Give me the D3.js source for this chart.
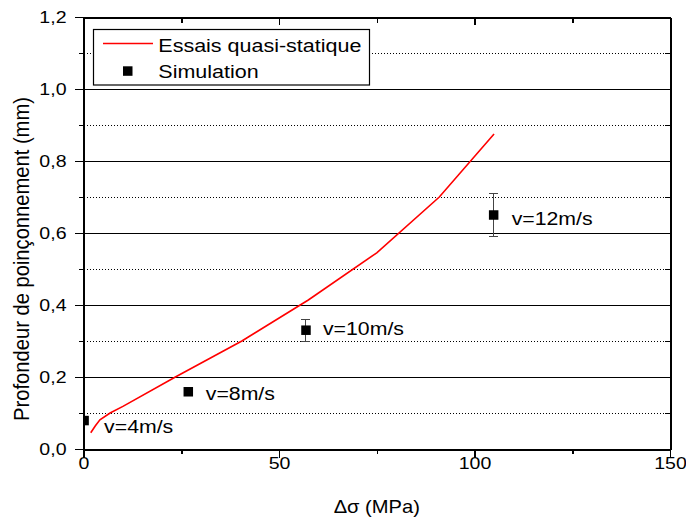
<!DOCTYPE html>
<html>
<head>
<meta charset="utf-8">
<script src="https://cdn.jsdelivr.net/npm/d3@7"></script>
<style>
  html, body { margin: 0; padding: 0; background: #fff; }
  svg { display: block; font-family: "Liberation Sans", Arial, sans-serif; }
  .crisp line, .crisp path { shape-rendering: crispEdges; }
</style>
</head>
<body>
<svg id="chart" width="686" height="519"></svg>
<script>
// ---------------- data ----------------
const quasiStaticStress = [1.85, 3.0, 4.2, 6.8, 10.2, 23.5, 40.5, 57.5, 75, 91, 105];
const quasiStaticDepth  = [0.045, 0.064, 0.081, 0.100, 0.119, 0.200, 0.300, 0.414, 0.545, 0.700, 0.875];

const simLabels = ["v=4m/s", "v=8m/s", "v=10m/s", "v=12m/s"];
const simStress = [0.15, 26.8, 56.9, 104.9];
const simDepth  = [0.079, 0.159, 0.330, 0.650];
const simError  = [0, 0, 0.030, 0.060];

const xMajorTicks = [0, 50, 100, 150];
const xMinorTicks = [25, 75, 125];
const yMajorTicks = [0, 0.2, 0.4, 0.6, 0.8, 1.0, 1.2];
const yMinorTicks = [0.1, 0.3, 0.5, 0.7, 0.9, 1.1];
const yGridSolid  = [0.2, 0.4, 0.6, 0.8, 1.0];
const yGridDotted = [0.1, 0.3, 0.5, 0.7, 0.9, 1.1];

const legendLabels = ["Essais quasi-statique", "Simulation"];
const xTitle = "\u0394\u03c3 (MPa)";
const yTitle = "Profondeur de poin\u00e7onnement (mm)";

// ---------------- layout ----------------
const SX = 1.15; // horizontal text stretch of the reference
const pLeft = 83.5, pRight = 670, pTop = 17, pBottom = 449;
const labelOffsets = [[20, 12], [17.5, 8.5], [17, 5], [18, 10]];

const svg = d3.select("#chart");
const x = d3.scaleLinear().domain([0, 150]).range([pLeft, pRight]);
const y = d3.scaleLinear().domain([0, 1.2]).range([pBottom, pTop]);
const fmt = d => d3.format(".1f")(d).replace(".", ",");

function stext(g, px, py, str, size, anchor) {
  return g.append("text")
    .attr("transform", `translate(${px},${py}) scale(${SX},1)`)
    .attr("text-anchor", anchor || "start")
    .attr("font-size", size)
    .attr("fill", "#000")
    .text(str);
}

svg.append("defs").append("clipPath").attr("id", "plotclip")
  .append("rect").attr("x", pLeft).attr("y", pTop)
  .attr("width", pRight - pLeft).attr("height", pBottom - pTop);

// grid lines
const grid = svg.append("g").attr("class", "crisp");
grid.append("g").selectAll("line").data(yGridSolid).join("line")
  .attr("x1", pLeft).attr("x2", pRight)
  .attr("y1", d => y(d)).attr("y2", d => y(d))
  .attr("stroke", "#000").attr("stroke-width", 1);
grid.append("g").selectAll("line").data(yGridDotted).join("line")
  .attr("x1", pLeft).attr("x2", pRight)
  .attr("y1", d => y(d)).attr("y2", d => y(d))
  .attr("stroke", "#000").attr("stroke-width", 1)
  .attr("stroke-dasharray", "1,2");

// ---------------- axes ----------------
function styleAxis(g) {
  g.attr("class", "crisp");
  g.select(".domain").attr("stroke", "#000").attr("stroke-width", 2);
  g.selectAll(".tick line").attr("stroke", "#000").attr("stroke-width", 1.5);
}
function styleMinor(g) {
  g.attr("class", "crisp");
  g.select(".domain").remove();
  g.selectAll(".tick line").attr("stroke", "#000").attr("stroke-width", 1.5);
}
// bottom
const gB = svg.append("g").attr("transform", `translate(0,${pBottom})`)
  .call(d3.axisBottom(x).tickValues(xMajorTicks).tickSize(9).tickSizeOuter(0).tickPadding(8).tickFormat(d3.format("d")));
gB.call(styleAxis);
gB.selectAll(".tick text").attr("font-size", 17).attr("font-family", "Liberation Sans, Arial, sans-serif")
  .attr("fill", "#000").attr("transform", `scale(${SX},1)`).attr("y", 8).attr("dy", "0.71em");
svg.append("g").attr("transform", `translate(0,${pBottom})`)
  .call(d3.axisBottom(x).tickValues(xMinorTicks).tickSize(5).tickSizeOuter(0).tickFormat(""))
  .call(styleMinor);
// top
svg.append("g").attr("transform", `translate(0,${pTop})`)
  .call(d3.axisTop(x).tickValues(xMajorTicks).tickSize(-8).tickSizeOuter(0).tickFormat(""))
  .call(styleAxis);
svg.append("g").attr("transform", `translate(0,${pTop})`)
  .call(d3.axisTop(x).tickValues(xMinorTicks).tickSize(-6).tickSizeOuter(0).tickFormat(""))
  .call(styleMinor);
// left
const gL = svg.append("g").attr("transform", `translate(${pLeft},0)`)
  .call(d3.axisLeft(y).tickValues(yMajorTicks).tickSize(9).tickSizeOuter(0).tickPadding(8).tickFormat(fmt));
gL.call(styleAxis);
gL.selectAll(".tick text").attr("font-size", 17).attr("font-family", "Liberation Sans, Arial, sans-serif")
  .attr("fill", "#000").attr("x", -17 / SX).attr("transform", `scale(${SX},1)`);
svg.append("g").attr("transform", `translate(${pLeft},0)`)
  .call(d3.axisLeft(y).tickValues(yMinorTicks).tickSize(5).tickSizeOuter(0).tickFormat(""))
  .call(styleMinor);
// right
svg.append("g").attr("transform", `translate(${pRight},0)`)
  .call(d3.axisRight(y).tickValues(yMajorTicks).tickSize(-8).tickSizeOuter(0).tickFormat(""))
  .call(styleAxis);
svg.append("g").attr("transform", `translate(${pRight},0)`)
  .call(d3.axisRight(y).tickValues(yMinorTicks).tickSize(-5).tickSizeOuter(0).tickFormat(""))
  .call(styleMinor);

// ---------------- series ----------------
const plot = svg.append("g").attr("clip-path", "url(#plotclip)");
const linePts = quasiStaticStress.map((s, i) => [s, quasiStaticDepth[i]]);
plot.append("path")
  .datum(linePts)
  .attr("fill", "none").attr("stroke", "#ff0000").attr("stroke-width", 1.6)
  .attr("d", d3.line().x(d => x(d[0])).y(d => y(d[1])));

const sims = simStress.map((s, i) => ({ s, d: simDepth[i], e: simError[i], label: simLabels[i], off: labelOffsets[i] }));
const eb = plot.append("g").attr("class", "crisp").selectAll("g").data(sims.filter(p => p.e > 0)).join("g");
eb.append("line").attr("x1", p => x(p.s)).attr("x2", p => x(p.s))
  .attr("y1", p => y(p.d - p.e)).attr("y2", p => y(p.d + p.e))
  .attr("stroke", "#444").attr("stroke-width", 1);
eb.append("line").attr("x1", p => x(p.s) - 4.5).attr("x2", p => x(p.s) + 4.5)
  .attr("y1", p => y(p.d - p.e)).attr("y2", p => y(p.d - p.e))
  .attr("stroke", "#444").attr("stroke-width", 1);
eb.append("line").attr("x1", p => x(p.s) - 4.5).attr("x2", p => x(p.s) + 4.5)
  .attr("y1", p => y(p.d + p.e)).attr("y2", p => y(p.d + p.e))
  .attr("stroke", "#444").attr("stroke-width", 1);
plot.append("g").selectAll("rect").data(sims).join("rect")
  .attr("x", p => x(p.s) - 4.75).attr("y", p => y(p.d) - 4.75)
  .attr("width", 9.5).attr("height", 9.5).attr("fill", "#000");

const lbl = svg.append("g");
sims.forEach(p => stext(lbl, x(p.s) + p.off[0], y(p.d) + p.off[1], p.label, 18.5));

// redraw left axis line above clipped square
svg.append("line").attr("x1", pLeft).attr("x2", pLeft).attr("y1", pTop).attr("y2", pBottom)
  .attr("stroke", "#000").attr("stroke-width", 2).style("shape-rendering", "crispEdges");

// ---------------- legend ----------------
const lg = svg.append("g");
lg.append("rect").attr("x", 93.5).attr("y", 29.5).attr("width", 276).attr("height", 55.5)
  .attr("fill", "#fff").attr("stroke", "#000").attr("stroke-width", 1.2);
lg.append("line").attr("x1", 103).attr("x2", 153).attr("y1", 43.5).attr("y2", 43.5)
  .attr("stroke", "#ff0000").attr("stroke-width", 1.6);
lg.append("rect").attr("x", 123).attr("y", 66.3).attr("width", 9.5).attr("height", 9.5).attr("fill", "#000");
stext(lg, 158.3, 51.8, legendLabels[0], 18.7);
stext(lg, 158.3, 78.3, legendLabels[1], 18.7);

// ---------------- titles ----------------
stext(svg, x(75), 513, xTitle, 17.5, "middle");
svg.append("text")
  .attr("transform", `translate(29,259) rotate(-90) scale(1.09,${SX})`)
  .attr("text-anchor", "middle").attr("font-size", 18.5).attr("fill", "#000")
  .text(yTitle);
</script>
</body>
</html>
